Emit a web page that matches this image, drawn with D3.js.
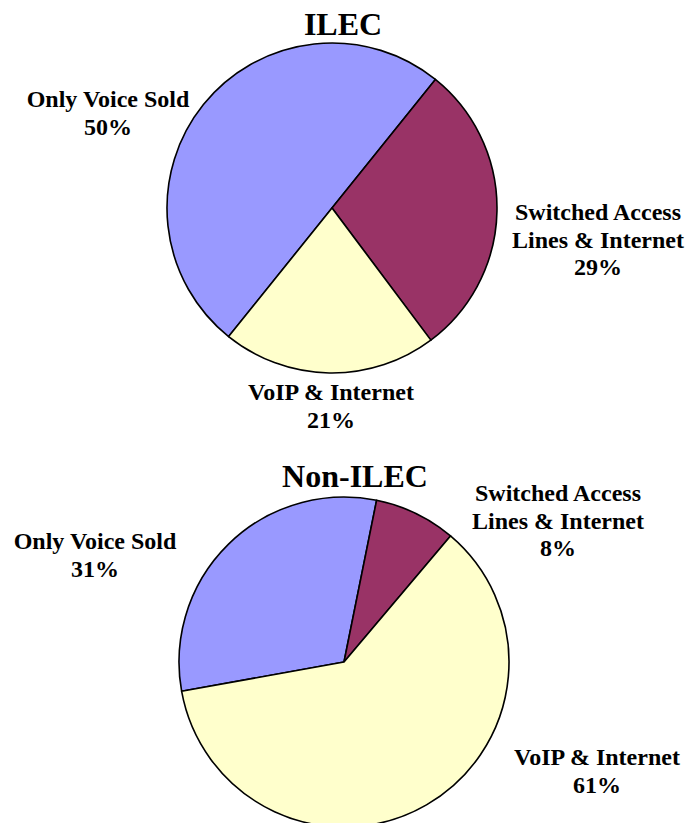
<!DOCTYPE html>
<html>
<head>
<meta charset="utf-8">
<script src="https://cdn.jsdelivr.net/npm/d3@7"></script>
<style>
  html, body { margin: 0; padding: 0; background: #fff; }
  svg { display: block; }
  text { font-family: "Liberation Serif", "Times New Roman", serif; font-weight: bold; fill: #000; }
</style>
</head>
<body>
<script>
// ---- Data ----
const categories = ["Only Voice Sold", "Switched Access Lines & Internet", "VoIP & Internet"];
const ilecValues = [50, 29, 21];
const nonIlecValues = [31, 8, 61];
const chartTitles = ["ILEC", "Non-ILEC"];

// ---- Styles / layout (kept separate from data) ----
const colors = ["#9999FF", "#993366", "#FFFFCC"];
const labelLines = [["Only Voice Sold"], ["Switched Access", "Lines & Internet"], ["VoIP & Internet"]];

const W = 688, H = 823;
const layouts = [
  { cx: 332, cy: 208, r: 165, startDeg: 218.8, titleX: 343, titleY: 35,
    labels: [ {x: 108, y: 107}, {x: 598, y: 220}, {x: 331, y: 400} ] },
  { cx: 344, cy: 662, r: 165, startDeg: 259.8, titleX: 355, titleY: 487,
    labels: [ {x: 95, y: 549}, {x: 558, y: 501}, {x: 597, y: 765} ] }
];

const svg = d3.select("body").append("svg").attr("width", W).attr("height", H);
const allValues = [ilecValues, nonIlecValues];

allValues.forEach((vals, i) => {
  const L = layouts[i];
  const start = L.startDeg * Math.PI / 180;
  const pie = d3.pie().sort(null).value(d => d)
    .startAngle(start).endAngle(start + 2 * Math.PI);
  const arc = d3.arc().innerRadius(0).outerRadius(L.r);
  const g = svg.append("g").attr("transform", `translate(${L.cx},${L.cy})`);
  g.selectAll("path").data(pie(vals)).join("path")
    .attr("d", arc)
    .attr("fill", (d, j) => colors[j])
    .attr("stroke", "#000")
    .attr("stroke-width", 1.6)
    .attr("stroke-linejoin", "round");

  svg.append("text")
    .attr("x", L.titleX).attr("y", L.titleY)
    .attr("text-anchor", "middle")
    .style("font-size", "32px")
    .text(chartTitles[i]);

  vals.forEach((v, j) => {
    const lines = labelLines[j].concat([d3.format(".0f")(v) + "%"]);
    const t = svg.append("text")
      .attr("text-anchor", "middle")
      .style("font-size", "24px");
    lines.forEach((ln, k) => {
      t.append("tspan")
        .attr("x", L.labels[j].x)
        .attr("y", L.labels[j].y + k * 27.5)
        .text(ln);
    });
  });
});
</script>
</body>
</html>
